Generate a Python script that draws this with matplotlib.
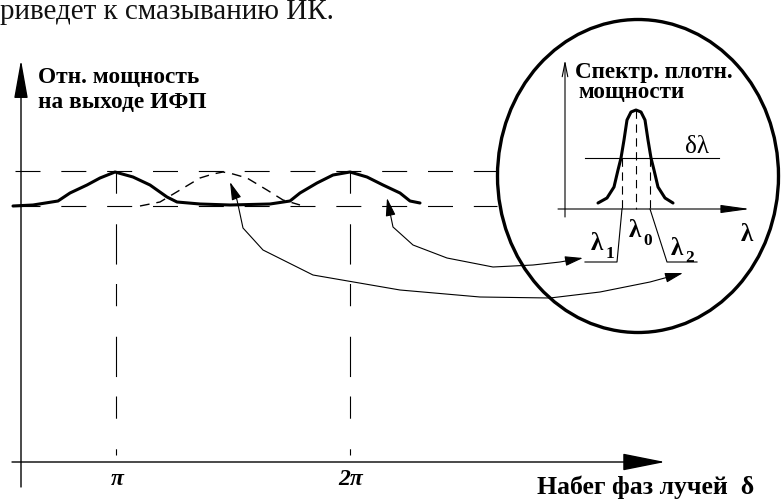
import matplotlib
matplotlib.use("Agg")
import matplotlib.pyplot as plt
from matplotlib.patches import Ellipse, FancyArrowPatch
from matplotlib.path import Path

plt.rcParams["lines.scale_dashes"] = False
SERIF = ["Liberation Serif", "DejaVu Serif"]

# ---------------- data (diagram coordinates) ----------------
# main interferometer output curve (solid)
solid_x = [13, 33, 58, 70, 87, 100, 115, 133, 150, 167, 177, 200, 230, 270, 290, 300, 317, 333, 350, 367, 383, 400, 410, 420]
solid_y = [206, 205, 201, 193, 185, 178, 172, 177, 185, 197, 202, 204, 205, 204, 201, 193, 183, 175, 172, 177, 185, 193, 201, 203]
# shifted curve (dashed)
shifted_x = [140, 160, 180, 200, 213, 223, 233, 247, 267, 283, 300]
shifted_y = [206, 202, 190, 178, 174, 172, 174, 178, 190, 200, 205]
# levels
level_max = 171
level_min = 206
# phase ticks
tick_pos = [116, 350]
tick_labels = ["π", "2π"]
# spectral density (inset)
spec_x = [598, 607, 614, 618, 621, 624, 627, 631, 636, 641, 645, 648, 651, 654, 658, 665, 673]
spec_y = [203, 198, 187, 170, 158, 140, 120, 112, 110, 112, 120, 140, 158, 170, 187, 198, 203]
spec_half = 158
lam1_x, lam0_x, lam2_x = 622, 636, 650

# connecting arrows
arrowA_x = [230, 237, 243, 263, 313, 400, 480, 550, 600, 650, 683]
arrowA_y = [182, 200, 228, 250, 275, 290, 297, 298, 292, 282, 273]
arrowB_x = [387, 393, 413, 447, 493, 533, 560, 583]
arrowB_y = [198, 227, 245, 258, 267, 265, 262, 258]

W, H = 781, 501
fig = plt.figure(figsize=(W / 100, H / 100), dpi=100)
ax = fig.add_axes([0, 0, 1, 1])
ax.set_xlim(0, W)
ax.set_ylim(H, 0)
ax.axis("off")

K = "black"


def arrow(x0, y0, x1, y1, style, lw=0.9, fc=K):
    p = FancyArrowPatch((x0, y0), (x1, y1), arrowstyle=style, mutation_scale=1,
                        shrinkA=0, shrinkB=0, lw=lw, color=K, fc=fc)
    ax.add_patch(p)


# top text (cut off in the source page)
ax.text(0, 19, "риведет к смазыванию ИК.", family=SERIF, fontsize=21,
        va="baseline", ha="left", color="#111111")

# main axes
arrow(21, 487, 21, 60, "-|>,head_length=24,head_width=4.3", lw=1.0)
arrow(12, 462, 665, 462, "-|>,head_length=27,head_width=5.4", lw=1.0)

# horizontal dashed levels
ax.plot([15, 497], [level_max, level_max], color=K, lw=0.8, dashes=(18, 15))
ax.plot([15, 497], [level_min, level_min], color=K, lw=0.8, dashes=(18, 15))

# vertical dashed lines at ticks
for xp in tick_pos:
    ax.plot([xp, xp], [level_max, 455], color=K, lw=0.8, dashes=(16, 22, 29, 14))
for xp, lab in zip(tick_pos, tick_labels):
    ax.text(xp + 1, 485, lab, family=SERIF, fontsize=17, ha="center", va="baseline",
            fontweight="bold", fontstyle="italic")

# curves
ax.plot(shifted_x, shifted_y, color=K, lw=1.0, dashes=(7, 5))
ax.plot(solid_x, solid_y, color=K, lw=2.2, solid_capstyle="round", solid_joinstyle="round")

# labels of main plot
ax.text(38, 83, "Отн. мощность", family=SERIF, fontweight="bold", fontsize=16.8, va="baseline")
ax.text(38, 108, "на выходе ИФП", family=SERIF, fontweight="bold", fontsize=16.8, va="baseline")
ax.text(537, 494, "Набег фаз лучей  δ", family=SERIF, fontweight="bold", fontsize=18.5, va="baseline")

# circle
ax.add_patch(Ellipse((638, 176), 281, 313, fill=False, lw=2.4, ec=K))

# inset axes
arrow(565, 217, 565, 60, "->,head_length=10,head_width=2", lw=0.8)
arrow(558, 209, 750, 209, "-|>,head_length=18,head_width=2.5", lw=0.8)
ax.text(575, 78, "Спектр. плотн.", family=SERIF, fontweight="bold", fontsize=16.7, va="baseline")
ax.text(578, 98, "мощности", family=SERIF, fontweight="bold", fontsize=16.7, va="baseline")

# spectral line
ax.plot(spec_x, spec_y, color=K, lw=2.2, solid_capstyle="round", solid_joinstyle="round")
ax.plot([585, 719], [spec_half, spec_half], color=K, lw=0.8)
ax.plot([lam0_x, lam0_x], [110, 209], color=K, lw=0.8, dashes=(6, 4))
ax.plot([lam1_x, lam1_x], [spec_half, 209], color=K, lw=0.8, dashes=(6, 4))
ax.plot([lam2_x, lam2_x], [spec_half, 209], color=K, lw=0.8, dashes=(6, 4))
ax.text(697, 153, "δλ", family=SERIF, fontsize=18, ha="center", va="baseline")

# leaders
ax.plot([lam1_x, 617, 585], [209, 262, 262], color=K, lw=0.8)
ax.plot([lam2_x, 667, 697], [209, 262, 262], color=K, lw=0.8)

# lambda labels
LAM = dict(family=SERIF, fontsize=18, ha="center", va="baseline", fontweight="bold")
SUB = dict(family=SERIF, fontsize=12.5, ha="center", va="baseline", fontweight="bold")
ax.text(597, 250, "λ", **LAM)
ax.text(610, 258, "1", **SUB)
ax.text(635, 237, "λ", **LAM)
ax.text(648, 245, "0", **SUB)
ax.text(677, 255, "λ", **LAM)
ax.text(690, 262, "2", **SUB)
ax.text(747, 241, "λ", **LAM)

# connecting double arrows
for xs, ys in ((arrowA_x, arrowA_y), (arrowB_x, arrowB_y)):
    path = Path(list(zip(xs, ys)))
    p = FancyArrowPatch(path=path, arrowstyle="<|-|>,head_length=11,head_width=3",
                        mutation_scale=1, lw=0.8, color=K, transform=ax.transData)
    ax.add_patch(p)

fig.savefig("out.png", dpi=100, facecolor="white")
